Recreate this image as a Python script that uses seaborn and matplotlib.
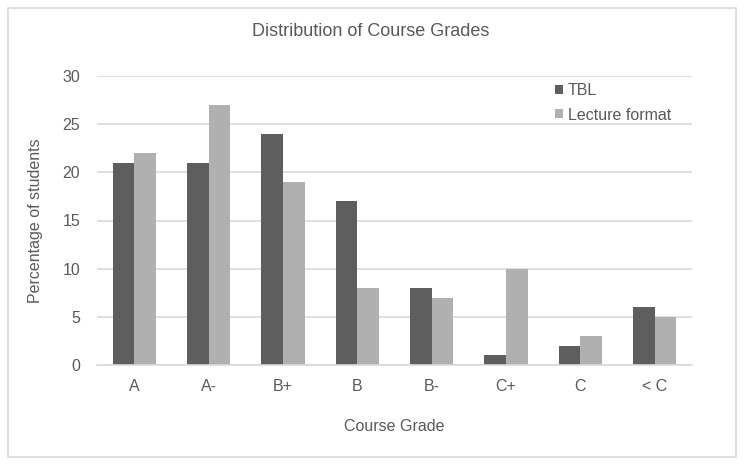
import matplotlib
matplotlib.use("Agg")
import matplotlib.pyplot as plt
import seaborn as sns
import pandas as pd
from matplotlib.patches import Rectangle

grades = ["A", "A-", "B+", "B", "B-", "C+", "C", "< C"]
tbl = [21, 21, 24, 17, 8, 1, 2, 6]
lecture = [22, 27, 19, 8, 7, 10, 3, 5]
series_names = ["TBL", "Lecture format"]

df = pd.DataFrame({
    "Course Grade": grades * 2,
    "Percentage": tbl + lecture,
    "Format": [series_names[0]] * len(grades) + [series_names[1]] * len(grades),
})

sns.set_theme(style="white")
plt.rcParams['font.family'] = ['Liberation Sans', 'DejaVu Sans']
txt = "#595959"

fig = plt.figure(figsize=(7.46, 4.67), dpi=100)
ax = fig.add_axes([97/746, 1 - 365/467, (692-97)/746, (365-76)/467])

sns.barplot(data=df, x="Course Grade", y="Percentage", hue="Format",
            palette=["#5E5E5E", "#B0B0B0"], width=0.58, gap=0,
            saturation=1, ax=ax, edgecolor="none", linewidth=0)

ax.set_ylim(0, 30)
ax.set_yticks([0, 5, 10, 15, 20, 25, 30])
ax.set_xlim(-0.5, 7.5)
ax.yaxis.grid(True, color="#D9D9D9", linewidth=1.2)
ax.set_axisbelow(True)
for s in ["top", "right", "left"]:
    ax.spines[s].set_visible(False)
ax.spines["bottom"].set_color("#D9D9D9")
ax.spines["bottom"].set_linewidth(1.2)
ax.tick_params(axis="both", length=0, labelsize=11.5, colors=txt)
ax.tick_params(axis="x", pad=10)
ax.tick_params(axis="y", pad=12)
ax.set_xlabel("Course Grade", fontsize=11.5, color=txt, labelpad=18)
ax.set_ylabel("Percentage of students", fontsize=11.5, color=txt, labelpad=14)
fig.text(371/746, 1 - 32/467, "Distribution of Course Grades", fontsize=13,
         color=txt, ha="center", va="center")

leg = ax.legend(loc="upper left", bbox_to_anchor=(555/746, 1 - 83/467),
                bbox_transform=fig.transFigure, frameon=False, fontsize=11.5,
                handlelength=0.5, handleheight=0.5, handletextpad=0.3,
                labelspacing=0.6, borderpad=0, borderaxespad=0, title=None)
for t in leg.get_texts():
    t.set_color(txt)

fig.patches.append(Rectangle((8/746, 1 - 457/467), (736-8)/746, (457-8)/467,
                             transform=fig.transFigure, fill=False,
                             edgecolor="#D9D9D9", linewidth=1.2))

fig.savefig("out.png", dpi=100)
